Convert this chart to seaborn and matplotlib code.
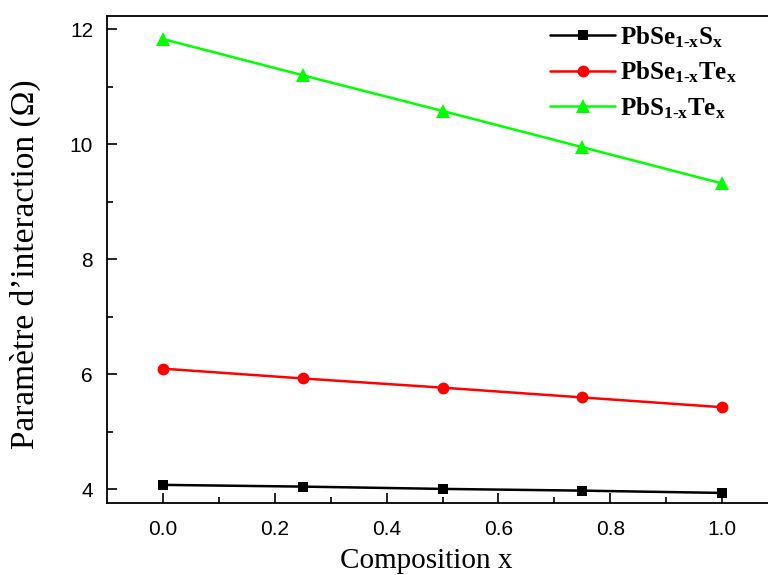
import numpy as np
import pandas as pd
import matplotlib
matplotlib.use("Agg")
import matplotlib.pyplot as plt
import seaborn as sns

# Composition and interaction parameters for the three alloys
composition = [0.0, 0.25, 0.5, 0.75, 1.0]
pbse_s = [4.08, 4.05, 4.01, 3.98, 3.94]
pbse_te = [6.10, 5.93, 5.77, 5.60, 5.43]
pbs_te = [11.83, 11.20, 10.58, 9.95, 9.32]

series_labels = [r"$\mathbf{PbSe_{1\text{-}x}S_x}$",
                 r"$\mathbf{PbSe_{1\text{-}x}Te_x}$",
                 r"$\mathbf{PbS_{1\text{-}x}Te_x}$"]
x_ticks = [0.0, 0.2, 0.4, 0.6, 0.8, 1.0]
y_ticks = [4, 6, 8, 10, 12]

sns.set_style("ticks")
plt.rcParams["font.family"] = ["Liberation Serif", "DejaVu Serif"]
plt.rcParams["mathtext.fontset"] = "custom"
plt.rcParams["mathtext.rm"] = "Liberation Serif:bold"
plt.rcParams["mathtext.bf"] = "Liberation Serif:bold"
plt.rcParams["mathtext.it"] = "Liberation Serif:italic"
plt.rcParams["text.color"] = "black"
plt.rcParams["axes.labelcolor"] = "black"
plt.rcParams["axes.edgecolor"] = "black"
plt.rcParams["xtick.color"] = "black"
plt.rcParams["ytick.color"] = "black"

df = pd.DataFrame({
    "x": composition * 3,
    "omega": pbse_s + pbse_te + pbs_te,
    "alloy": np.repeat(series_labels, len(composition)),
})

fig = plt.figure(figsize=(7.68, 5.75), dpi=100)
ax = fig.add_axes([107 / 768, 1 - 503 / 575, (778 - 107) / 768, (503 - 16) / 575])

styles = [("#000000", "s", 7.0), ("#ff0000", "o", 8.5), ("#00ff00", "^", 9.5)]
for label, (color, marker, ms) in zip(series_labels, styles):
    sub = df[df["alloy"] == label]
    sns.lineplot(data=sub, x="x", y="omega", ax=ax, color=color, marker=marker,
                 markersize=ms, markeredgewidth=0, linewidth=1.8, label=label,
                 markeredgecolor=color)

ax.set_xlim(-0.1, 1.1)
ax.set_ylim(3.765, 12.23)
ax.set_xticks(x_ticks)
ax.set_xticks([0.1, 0.3, 0.5, 0.7, 0.9], minor=True)
ax.set_yticks(y_ticks)
ax.set_yticks([5, 7, 9, 11], minor=True)
ax.set_xticklabels([f"{v:.1f}" for v in x_ticks], family="Liberation Sans", fontsize=15)
ax.set_yticklabels([str(v) for v in y_ticks], family="Liberation Sans", fontsize=15)
ax.tick_params(axis="x", which="major", direction="in", length=7, width=1.2, pad=12)
ax.tick_params(axis="y", which="major", direction="in", length=7, width=1.2, pad=10)
ax.tick_params(which="minor", direction="in", length=4, width=1.2)
for side in ["left", "bottom", "top"]:
    ax.spines[side].set_linewidth(1.3)
ax.spines["right"].set_visible(False)

ax.set_xlabel("Composition x", fontsize=21)
ax.set_ylabel("Paramètre d’interaction (Ω)", fontsize=24)
ax.xaxis.set_label_coords((426 - 107) / 671, -(548 - 503) / 487)
ax.yaxis.set_label_coords((41 - 107) / 671, 0.49)

leg = ax.legend(loc="upper left", bbox_to_anchor=(550 / 768, 1 - 24 / 575),
                bbox_transform=fig.transFigure, frameon=False, fontsize=18,
                handlelength=2.6, handletextpad=0.2, labelspacing=0.4,
                borderpad=0, borderaxespad=0)

fig.savefig("out.png", dpi=100)
